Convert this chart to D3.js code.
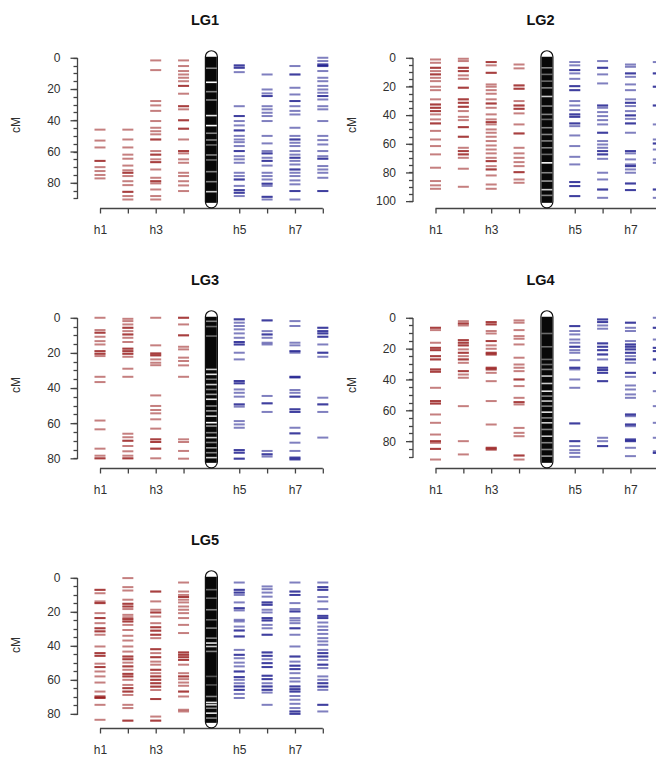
<!DOCTYPE html>
<html>
<head>
<meta charset="utf-8">
<script src="https://cdn.jsdelivr.net/npm/d3@7"></script>
<style>
  body { margin: 0; background: #fff; }
  svg { display: block; }
  .axis-line { stroke: #444; stroke-width: 1.3px; fill: none; }
</style>
</head>
<body>
<script>
// Phased linkage maps: homologs h1-h4 (parent 1) and h5-h8 (parent 2),
// with the integrated linkage group drawn in the middle.
const groups = ["LG1", "LG2", "LG3", "LG4", "LG5"];
const groupLengths = [92.2, 100.5, 82, 93.4, 84.7];
const homologLabels = ["h1", "h2", "h3", "h4", "h5", "h6", "h7", "h8"];

// Marker positions (cM) on each homolog; repeated values are co-located markers.
const lg1 = [
  [46, 53, 57.4, 66, 66, 70, 72.5, 75, 77.2],
  [46, 52.3, 57.4, 62, 64.6, 69, 72, 73.6, 73.6, 75.7, 79, 81.5, 85.8, 85.8, 88.5, 90.7],
  [1.7, 7.9, 27.7, 30.5, 34, 40.5, 44.8, 47, 49, 52.3, 52.3, 59.7, 62, 62, 65, 66.8, 66.8, 71.5, 76.8, 79, 79, 80.4, 84.3, 88.5, 90.7],
  [1.7, 5.3, 8.5, 10.7, 12.8, 15, 18, 18, 23, 31, 31, 33, 40, 40, 45.4, 45.4, 52.3, 59.7, 59.7, 61.2, 65, 67.2, 73.6, 75.7, 79, 81.7, 85.3],
  [4.9, 4.9, 6.4, 6.4, 9.2, 31, 37.3, 37.3, 40.5, 43.3, 46.5, 46.5, 50, 52.3, 54, 56.5, 59.7, 59.7, 63, 65, 67.2, 73.6, 75.7, 77.9, 77.9, 82, 84.7, 84.7, 86.4, 86.4, 88.5],
  [10.7, 20.3, 22.8, 24.5, 24.5, 31, 33, 35.2, 37.3, 40.5, 50, 54.8, 59.7, 61.2, 61.2, 64, 66, 66, 69, 73.6, 75.7, 77.9, 80.6, 80.6, 82, 89, 89, 90.7],
  [5.3, 10.7, 10.7, 19.2, 23.5, 27.7, 27.7, 31, 34, 36.3, 44.8, 50, 52.3, 52.3, 54.4, 56.5, 59.7, 62, 64, 64, 66, 68.3, 71.5, 71.5, 73.6, 75.7, 78.5, 81, 85.3, 85.3, 90.7],
  [0, 2.1, 4.3, 4.3, 5.3, 5.3, 8.5, 12.8, 15, 18, 20.3, 22.4, 24.5, 24.5, 26.7, 31, 33, 40.5, 50, 52.7, 55.5, 59.7, 63, 64.6, 64.6, 69.3, 71.5, 73.6, 76.8, 85.3, 85.3]
];
const lg2 = [
  [1.2, 3.5, 7, 7, 9.3, 11.6, 11.6, 14, 16.3, 20.2, 22.6, 29, 32.6, 32.6, 34.9, 34.9, 37.2, 37.2, 39.5, 43, 45.8, 45.8, 51, 57, 61.6, 67.4, 76.7, 86, 89, 91.4],
  [0.7, 2.3, 7, 7, 9.3, 9.3, 12.3, 14.7, 20.9, 20.9, 29, 29, 31.4, 31.4, 34.2, 34.2, 37.2, 41.2, 43.5, 48.4, 48.4, 55.1, 55.1, 62.8, 65.1, 65.1, 67.4, 67.4, 69.8, 77.4, 90],
  [3, 3, 5.3, 10.5, 10.5, 18.6, 20.2, 22.6, 25.1, 29, 31.9, 31.9, 34.9, 39.5, 43, 44.9, 44.9, 46.5, 50, 52.3, 55.1, 58.1, 61.2, 64, 66.7, 69.8, 72.1, 72.1, 75.6, 77.9, 77.9, 82.1, 88.4, 91.4],
  [4.7, 7.4, 19.3, 19.3, 21.6, 21.6, 30.2, 33.3, 33.3, 35.6, 35.6, 38.8, 46.5, 52.8, 52.8, 62.8, 66.7, 69.8, 72.8, 75.6, 79.8, 79.8, 84.9, 87.2],
  [3, 5.3, 8.6, 8.6, 10.9, 14.7, 19.8, 19.8, 22.6, 22.6, 30.2, 33.3, 36.5, 39.5, 39.5, 41.2, 41.2, 45.8, 45.8, 47.7, 54.2, 61.6, 69.1, 74.4, 86.7, 86.7, 89.5, 89.5, 96.5, 96.5],
  [2.3, 7, 7, 11.6, 17.9, 33.3, 33.3, 34.9, 37.9, 40.7, 43.5, 46.5, 52.3, 52.3, 58.1, 60.5, 62.8, 65.1, 65.1, 67.4, 67.4, 70.5, 80.2, 84.9, 91.9, 91.9, 97.7],
  [4.7, 6.3, 10.9, 10.9, 13.3, 18.6, 22.6, 29, 31.4, 31.4, 33.7, 37.2, 40.2, 40.2, 42.6, 45.8, 45.8, 52.3, 65.1, 65.1, 66.7, 70.9, 74.4, 75.6, 75.6, 77.9, 80.2, 87.7, 87.7, 92.3, 92.3],
  [3, 10.9, 10.9, 20.2, 20.2, 33.3, 33.3, 46.5, 57, 59.8, 59.8, 64, 70.9, 73.3, 91.9, 91.9, 97.7]
];
const lg3 = [
  [0, 7, 8.5, 8.5, 10.8, 13.3, 15.2, 19, 19, 20.5, 20.5, 21.8, 33.6, 36.6, 58.5, 63.5, 74.5, 78.5, 80, 80],
  [0.6, 1.9, 3.8, 5.7, 5.7, 7.6, 9.5, 9.5, 11.4, 13.8, 17.6, 17.6, 19, 19, 20.5, 20.5, 22.2, 29, 33.6, 66, 68, 70, 70, 73, 76, 78.5, 80, 80],
  [0, 15.7, 20.3, 20.3, 21.4, 21.4, 23.7, 25.6, 27, 44.2, 50.2, 52.5, 54.4, 57.8, 63.1, 69.2, 69.2, 70.7, 70.7, 74.5, 74.5, 80],
  [0, 0, 3.8, 10, 10, 16.5, 18, 22.7, 24.6, 27.1, 33.6, 69.2, 70.7, 75.8, 80.2],
  [0.9, 0.9, 2.8, 4.7, 6.6, 8.9, 11.4, 13.8, 13.8, 15.2, 15.2, 19.9, 23.7, 36, 36, 37.3, 37.3, 40.8, 42.7, 44.9, 49.3, 49.3, 50.6, 58.8, 60.7, 62.6, 75.3, 75.3, 76.8, 76.8, 80.2, 80.2],
  [1.5, 1.5, 7.6, 9.5, 9.5, 11.4, 14.2, 15.2, 44.5, 48.7, 48.7, 53.6, 75.8, 77.7, 77.7, 79],
  [1.9, 4.7, 14.2, 15.7, 19, 19, 19.9, 33.6, 33.6, 34.1, 41.1, 42.7, 44.9, 44.9, 52.1, 52.1, 53.6, 53.6, 62.6, 65.8, 65.8, 71.1, 75.8, 79.6, 79.6, 80.6, 80.6],
  [5.7, 5.7, 7.6, 7.6, 8.9, 8.9, 10.8, 10.8, 15.2, 19.9, 19.9, 22.2, 45.5, 49.3, 49.3, 53.6, 68.2]
];
const lg4 = [
  [6.5, 6.5, 8, 16.2, 19.5, 19.5, 21, 21, 24.9, 24.9, 27, 27, 33.5, 33.5, 35, 35, 45.4, 54, 54, 55.6, 55.6, 62.7, 68.1, 75.7, 80, 80, 81.1, 85, 85, 91.9],
  [2.2, 3.7, 3.7, 5, 14.5, 14.5, 16.2, 16.2, 17.9, 17.9, 20.5, 22.7, 22.7, 24.9, 27, 27, 29.2, 34.6, 34.6, 36.8, 38.9, 57.3, 80, 88.6],
  [2.8, 2.8, 4.3, 4.3, 8.6, 10.2, 15.1, 15.1, 17.9, 20.1, 22.7, 22.7, 23.8, 23.8, 32.4, 32.4, 33.5, 33.5, 35.7, 41.1, 54, 69.2, 84.3, 84.3, 85.4, 85.4],
  [1.7, 3.2, 8, 11.9, 13.6, 17.3, 25.9, 30.3, 32.4, 34.6, 40, 40, 44.3, 51.9, 54.7, 54.7, 56.2, 71.4, 74.6, 76.8, 89.3, 89.3, 91.9],
  [5.4, 5.4, 8.6, 10.8, 14.1, 16.2, 18.8, 18.8, 21, 22.7, 27.5, 32.4, 32.4, 33.5, 40, 45.4, 68.5, 68.5, 80, 80, 83.2, 85.8, 87.6, 90.2],
  [1.1, 1.1, 2.8, 2.8, 5, 7.1, 16.6, 16.6, 18.8, 18.8, 21, 21, 23.8, 23.8, 27, 32.4, 32.4, 33.9, 33.9, 35.7, 35.7, 41.1, 41.1, 77.8, 80, 83.2, 83.2],
  [3.2, 3.2, 6.5, 8.6, 15.1, 17.3, 17.3, 18.8, 18.8, 20.5, 20.5, 22.7, 22.7, 24.9, 27, 27, 29.2, 35.7, 35.7, 38.3, 43.9, 46.5, 49.7, 51.9, 62.7, 62.7, 63.8, 69.2, 69.2, 70.3, 78.9, 78.9, 80, 80, 84.3, 89.7],
  [0, 6.5, 6.5, 14.1, 19.5, 19.5, 21.6, 21.6, 27, 27, 35.7, 35.7, 47.6, 57.3, 68.1, 77.8, 86.5, 87.6, 87.6]
];
const lg5 = [
  [7.1, 7.1, 9.1, 13.9, 14.9, 14.9, 20.8, 23.7, 23.7, 26.7, 29.7, 29.7, 31.5, 31.5, 33.5, 40.4, 44.3, 44.3, 45.9, 45.9, 50.5, 52.5, 52.5, 55.1, 58, 61.6, 66.9, 69.8, 69.8, 70.7, 70.7, 74.7, 83.5],
  [0.2, 5.5, 7.5, 12.9, 15.3, 15.3, 16.9, 16.9, 18.4, 21.8, 23.2, 24.3, 24.3, 25.7, 25.7, 27.7, 30.7, 34.1, 36.9, 40.4, 43.4, 46.3, 46.3, 47.9, 47.9, 49.9, 52.1, 52.1, 54.1, 56.5, 56.5, 58, 58, 60, 63, 64.9, 64.9, 66.9, 66.9, 68.9, 74.7, 76.6, 84, 84],
  [8.1, 8.1, 13.9, 18.8, 20.4, 20.4, 22.8, 26.7, 29.1, 29.1, 31.1, 31.1, 33.5, 33.5, 35.5, 42, 42, 44.3, 46.7, 46.7, 49.3, 51.1, 54.1, 54.1, 56.1, 58, 58, 60, 60, 62, 62, 64, 64, 66, 71.3, 71.3, 81.6, 84, 84],
  [2.8, 8.1, 10.1, 11.3, 11.3, 12.9, 14.5, 16.9, 18.8, 20.8, 23.7, 27.7, 32.5, 43.9, 43.9, 45.3, 45.3, 46.7, 46.7, 48.3, 48.3, 51.1, 56.1, 58, 58, 59.6, 61.6, 63.5, 66.9, 66.9, 69.8, 77.6, 78.6],
  [2.8, 7.1, 7.1, 8.7, 8.7, 10.1, 14.5, 17.9, 17.9, 19.2, 24.7, 25.7, 28.7, 31, 31, 34.5, 34.5, 42.4, 45.3, 45.3, 47.3, 49.9, 52.1, 55.1, 55.1, 58.4, 58.4, 60, 62, 63.9, 63.9, 65.9, 65.9, 68.3, 70.7],
  [5.1, 6.7, 8.7, 11.1, 14.5, 14.5, 15.9, 15.9, 18.8, 20.4, 23.7, 23.7, 25.1, 25.1, 27.7, 29.7, 33.5, 33.5, 43.9, 43.9, 45.9, 45.9, 47.9, 50.2, 50.2, 52.5, 52.5, 57.6, 57.6, 59.6, 59.6, 62, 63.9, 63.9, 65.9, 65.9, 67.5, 74.7],
  [2.8, 8.1, 8.1, 10.1, 10.1, 14.9, 18.4, 19.8, 19.8, 23.7, 25.1, 26.7, 29.7, 29.7, 33.5, 40.4, 46.3, 46.3, 49.3, 51.7, 51.7, 53.7, 53.7, 56.1, 59, 61, 63.9, 63.9, 65.5, 65.5, 66.9, 66.9, 69.5, 71.7, 74.1, 76.6, 78.6, 78.6, 80, 80],
  [2.8, 5.5, 5.5, 7.1, 7.1, 11.3, 13.9, 18.4, 22.4, 22.4, 23.7, 23.7, 26.3, 28.7, 30.7, 33, 35.5, 37.4, 39.4, 42.4, 44.3, 44.3, 46.3, 46.3, 48.3, 51.1, 51.1, 53.1, 58, 60, 62, 62, 64, 64, 65.9, 74.7, 74.7, 78.6]
];

// Light bands on the integrated linkage group: [position cM, lightness 0-1].
const lg1Bands = [[6.7, 0.5], [15.7, 1], [21.7, 0.5], [27, 0.5], [37, 0.9], [43.4, 1], [48.3, 0.5], [52.6, 0.5], [55.8, 0.4], [62.2, 0.5], [65.4, 0.4], [72.9, 0.5], [79.3, 0.5], [85.7, 0.8]];
const lg2Bands = [[7, 0.5], [11.6, 0.4], [16.3, 0.4], [21, 0.5], [27, 0.8], [33.7, 0.5], [39.5, 0.5], [43, 0.4], [48.8, 0.5], [53.5, 0.5], [58, 0.5], [62.8, 0.5], [67.4, 0.4], [73.3, 1], [80.2, 0.5], [86, 0.6], [92, 0.8], [96, 0.5]];
const lg3Bands = [[2, 0.5], [5, 0.4], [10.4, 0.4], [29.4, 0.8], [32.2, 0.9], [35, 0.5], [38, 0.8], [40.8, 0.5], [43.6, 0.6], [46.4, 0.9], [50.2, 0.5], [53, 0.6], [56, 0.8], [59.7, 1], [61.6, 0.6], [65.4, 0.5], [68.2, 0.8], [71, 0.5], [74, 0.6], [76.8, 0.5], [79.6, 0.8]];
const lg4Bands = [[10.2, 0.4], [18.8, 0.4], [27, 0.4], [30.3, 0.4], [33.5, 0.5], [37.8, 0.8], [42.6, 0.8], [47.6, 0.9], [50.8, 0.5], [54, 0.8], [57.3, 0.5], [61.2, 0.9], [64.9, 0.5], [68.1, 0.8], [72.4, 0.5], [76.8, 0.8], [81, 0.5], [85.4, 0.5], [89.7, 0.6]];
const lg5Bands = [[7, 0.4], [12, 0.4], [18.8, 0.5], [24.7, 0.4], [29.6, 0.5], [35.5, 0.5], [38.4, 0.9], [40.4, 0.8], [43.3, 0.5], [58, 0.3], [63, 0.3], [69.8, 0.5], [73.3, 0.9], [74.7, 0.8], [76.7, 0.5], [79.6, 0.9], [82.5, 0.5]];

const groupMarkers = [lg1, lg2, lg3, lg4, lg5];
const groupBands = [lg1Bands, lg2Bands, lg3Bands, lg4Bands, lg5Bands];

const W = 656, H = 760;
const parentColors = ["#8B0000", "#000080"];
const textColor = "#303030";
const font = "'Liberation Sans', Arial, sans-serif";

const svg = d3.select("body").append("svg")
  .attr("width", W).attr("height", H)
  .style("font-family", font);

// slot 1-4 = h1-h4, slot 5 = linkage group, slot 6-9 = h5-h8
const slotOf = j => (j < 4 ? j + 1 : j + 2);
const x = d3.scaleLinear().domain([1, 9]).range([100, 100 + 8 * 27.85]);
const axisX = 77.5, plotTop = 52, plotBottom = 207.6, xAxisY = 208.5;

groups.forEach((name, gi) => {
  const M = groupLengths[gi];
  const g = svg.append("g")
    .attr("transform", `translate(${(gi % 2) * 335.5},${Math.floor(gi / 2) * 260})`);

  const y = d3.scaleLinear().domain([-0.04 * M, 1.04 * M]).range([plotTop, plotBottom]);

  // title
  g.append("text")
    .attr("x", 205).attr("y", 25)
    .attr("text-anchor", "middle")
    .attr("font-weight", "bold").attr("font-size", 14.5)
    .attr("fill", "#111")
    .text(name);

  // y label
  g.append("text")
    .attr("transform", `translate(16,125) rotate(-90)`)
    .attr("text-anchor", "middle").attr("dominant-baseline", "central")
    .attr("font-size", 12).attr("fill", textColor)
    .text("cM");

  // y axis: labelled ticks every 20 cM, minor ticks every 5 cM
  const minor = d3.range(0, M + 1e-9, 5);
  const major = d3.range(0, M + 1e-9, 20);
  const yAxisG = g.append("g").attr("transform", `translate(${axisX},0)`);
  yAxisG.call(d3.axisLeft(y).tickValues(major).tickSize(7).tickPadding(10).tickFormat(d3.format("d")));
  yAxisG.select(".domain").remove();
  yAxisG.selectAll(".tick line").attr("class", "axis-line");
  yAxisG.selectAll(".tick text").attr("font-size", 12).attr("fill", textColor).attr("font-family", font);

  const yMinor = g.append("g").attr("transform", `translate(${axisX},0)`);
  yMinor.selectAll("line").data(minor).join("line")
    .attr("class", "axis-line")
    .attr("x1", -4).attr("x2", 0)
    .attr("y1", d => Math.round(y(d)) + 0.5).attr("y2", d => Math.round(y(d)) + 0.5);
  yMinor.append("line")
    .attr("class", "axis-line")
    .attr("x1", 0).attr("x2", 0)
    .attr("y1", Math.round(y(0))).attr("y2", Math.round(y(minor[minor.length - 1])) + 1);

  // x axis: homolog ticks
  const slots = homologLabels.map((_, j) => slotOf(j));
  const xAxisG = g.append("g").attr("transform", `translate(0,${xAxisY})`);
  xAxisG.call(d3.axisBottom(x).tickValues(slots).tickSize(5).tickPadding(12)
    .tickFormat((d, i) => (i % 2 === 0 ? homologLabels[i] : "")));
  xAxisG.select(".domain").remove();
  xAxisG.selectAll(".tick line").attr("class", "axis-line");
  xAxisG.selectAll(".tick text").attr("font-size", 12).attr("fill", textColor).attr("font-family", font);
  xAxisG.append("line")
    .attr("class", "axis-line")
    .attr("x1", x(1)).attr("x2", x(9))
    .attr("y1", 0).attr("y2", 0);

  // homolog marker dashes
  groupMarkers[gi].forEach((positions, j) => {
    const cx = x(slotOf(j));
    g.append("g").selectAll("line").data(positions).join("line")
      .attr("x1", cx - 5.5).attr("x2", cx + 5.5)
      .attr("y1", d => y(d)).attr("y2", d => y(d))
      .attr("stroke", parentColors[j < 4 ? 0 : 1])
      .attr("stroke-opacity", 0.5)
      .attr("stroke-width", 2);
  });

  // integrated linkage group
  const cx = x(5);
  const chrom = g.append("g");
  chrom.append("rect")
    .attr("x", cx - 6).attr("width", 12)
    .attr("y", y(0) - 7).attr("height", y(M) - y(0) + 13)
    .attr("rx", 6).attr("ry", 6)
    .attr("fill", "#fff").attr("stroke", "#111").attr("stroke-width", 1.2);
  chrom.append("rect")
    .attr("x", cx - 5.4).attr("width", 10.8)
    .attr("y", y(0) - 1).attr("height", y(M) - y(0) + 2)
    .attr("fill", "#080808");
  chrom.selectAll("line.band").data(groupBands[gi]).join("line")
    .attr("class", "band")
    .attr("x1", cx - 5.4).attr("x2", cx + 5.4)
    .attr("y1", d => y(d[0])).attr("y2", d => y(d[0]))
    .attr("stroke", "#fff")
    .attr("stroke-opacity", d => d[1])
    .attr("stroke-width", 1.6);
});
</script>
</body>
</html>
